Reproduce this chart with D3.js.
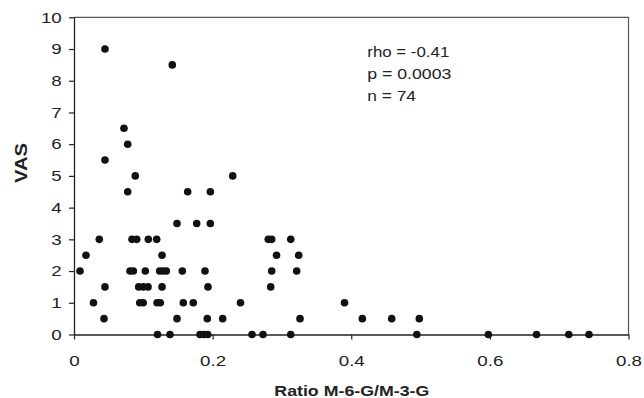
<!DOCTYPE html>
<html>
<head>
<meta charset="utf-8">
<script src="https://cdn.jsdelivr.net/npm/d3@7"></script>
<style>
  html, body { margin: 0; padding: 0; background: #fff; }
  svg { display: block; font-family: "Liberation Sans", Arial, sans-serif; }
</style>
</head>
<body>
<svg id="chart" width="644" height="398"></svg>
<script>
// ratio M-6-G/M-3-G (x) and VAS score (y)
const ratio = [
  0.0447, 0.1418, 0.0721, 0.0775, 0.0447,
  0.0884, 0.2290,
  0.0775, 0.1640, 0.1967,
  0.1486, 0.1770, 0.1967,
  0.0365, 0.0837, 0.0905, 0.1072, 0.1193, 0.2803, 0.2852, 0.3127,
  0.0173, 0.1270, 0.2922, 0.3242,
  0.0087, 0.0808, 0.0856, 0.1029, 0.1236, 0.1284, 0.1332, 0.1563, 0.1890, 0.2852, 0.3213,
  0.0447, 0.0933, 0.1000, 0.1068, 0.1270, 0.1933, 0.2838,
  0.0281, 0.0949, 0.0998, 0.1198, 0.1245, 0.1577, 0.1721, 0.2402, 0.3903,
  0.0433, 0.1486, 0.1923, 0.2145, 0.3261, 0.4160, 0.4584, 0.4982,
  0.1205, 0.1385, 0.1818, 0.1876, 0.1929, 0.2568, 0.2727, 0.3127, 0.4946, 0.5978, 0.6673, 0.7138, 0.7430
];
const vas = [
  9, 8.5, 6.5, 6, 5.5,
  5, 5,
  4.5, 4.5, 4.5,
  3.5, 3.5, 3.5,
  3, 3, 3, 3, 3, 3, 3, 3,
  2.5, 2.5, 2.5, 2.5,
  2, 2, 2, 2, 2, 2, 2, 2, 2, 2, 2,
  1.5, 1.5, 1.5, 1.5, 1.5, 1.5, 1.5,
  1, 1, 1, 1, 1, 1, 1, 1, 1,
  0.5, 0.5, 0.5, 0.5, 0.5, 0.5, 0.5, 0.5,
  0, 0, 0, 0, 0, 0, 0, 0, 0, 0, 0, 0, 0
];
const xTicks = [0, 0.2, 0.4, 0.6, 0.8];
const yTicks = [0, 1, 2, 3, 4, 5, 6, 7, 8, 9, 10];
const statLines = ["rho = -0.41", "p = 0.0003", "n = 74"];

const svg = d3.select("#chart");
const points = ratio.map((r, i) => ({ x: r, y: vas[i] }));

const x = d3.scaleLinear().domain([0, 0.8]).range([74, 628.5]);
const y = d3.scaleLinear().domain([0, 10]).range([334.5, 17.3]);

// frame (top and right)
svg.append("path")
  .attr("d", `M${x(0)},${y(10)}H${x(0.8)}V${y(0)}`)
  .attr("fill", "none")
  .attr("stroke", "#555")
  .attr("stroke-width", 1.2);

const sx = 1.25;

const xAxis = svg.append("g")
  .attr("transform", `translate(0,${y(0)})`)
  .call(d3.axisBottom(x).tickValues(xTicks).tickFormat(d3.format("")).tickSize(5).tickSizeOuter(0).tickPadding(16));

const yAxis = svg.append("g")
  .attr("transform", `translate(${x(0)},0)`)
  .call(d3.axisLeft(y).tickValues(yTicks).tickSize(5).tickSizeOuter(0).tickPadding(4.8));

[xAxis, yAxis].forEach(ax => {
  ax.attr("font-family", null).attr("font-size", null);
  ax.select(".domain").attr("stroke", "#222").attr("stroke-width", 1.3);
  ax.selectAll(".tick line").attr("stroke", "#222").attr("stroke-width", 1.2);
  ax.selectAll(".tick text")
    .style("font-size", "15px")
    .attr("fill", "#222")
    .attr("transform", `scale(${sx},1)`);
});

// points
svg.append("g")
  .selectAll("circle")
  .data(points)
  .join("circle")
  .attr("cx", d => x(d.x))
  .attr("cy", d => y(d.y))
  .attr("r", 3.8)
  .attr("fill", "#111");

// axis titles
svg.append("text")
  .attr("x", 351.8)
  .attr("y", 396)
  .attr("text-anchor", "middle")
  .attr("textLength", 155)
  .attr("lengthAdjust", "spacingAndGlyphs")
  .style("font-size", "15px")
  .style("font-weight", "bold")
  .attr("fill", "#222")
  .text("Ratio M-6-G/M-3-G");

svg.append("text")
  .attr("transform", "translate(26.5,163) rotate(-90)")
  .attr("text-anchor", "middle")
  .attr("textLength", 40)
  .attr("lengthAdjust", "spacingAndGlyphs")
  .style("font-size", "16px")
  .style("font-weight", "bold")
  .attr("fill", "#222")
  .text("VAS");

// statistics
const statWidths = [82, 84, 48.7];
const statBase = [57.3, 78.5, 100.5];
svg.append("g")
  .selectAll("text")
  .data(statLines)
  .join("text")
  .attr("x", 367.3)
  .attr("y", (d, i) => statBase[i])
  .attr("textLength", (d, i) => statWidths[i])
  .attr("lengthAdjust", "spacingAndGlyphs")
  .style("font-size", "15.5px")
  .attr("fill", "#222")
  .text(d => d);
</script>
</body>
</html>
